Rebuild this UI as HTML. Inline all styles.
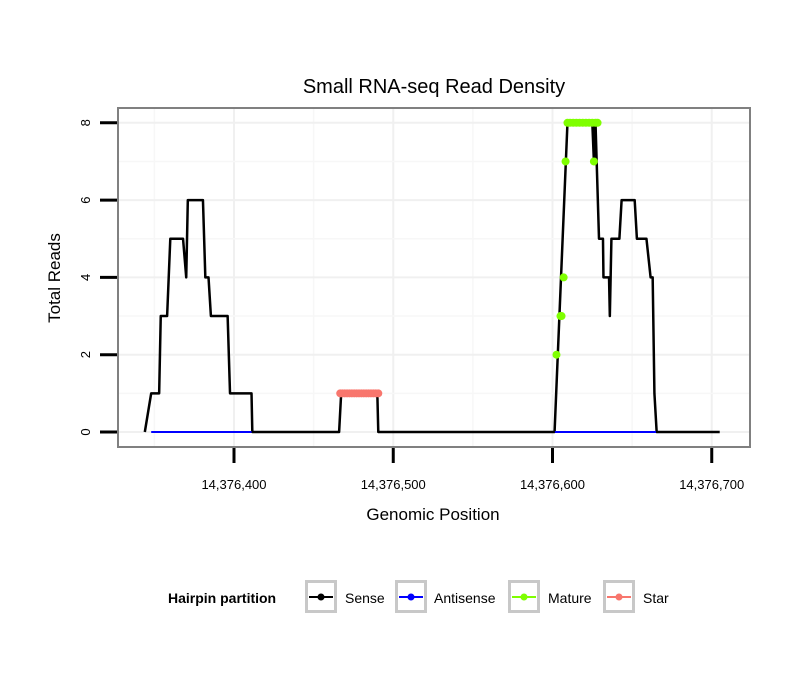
<!DOCTYPE html>
<html><head><meta charset="utf-8"><style>
body{margin:0;background:#fff;font-family:"Liberation Sans",sans-serif}
</style></head><body>
<svg id="chart" width="810" height="690" xmlns="http://www.w3.org/2000/svg" font-family="Liberation Sans, sans-serif">
<rect width="810" height="690" fill="#fff"/>
<text x="434" y="93" font-size="20" text-anchor="middle">Small RNA-seq Read Density</text>
<g id="grid"></g>
<g id="marks"></g>
<rect x="118" y="108" width="632" height="339" fill="none" stroke="#808080" stroke-width="2"/>
<g id="axes"></g>
<text x="433" y="520" font-size="17" text-anchor="middle">Genomic Position</text>
<text transform="translate(60,278) rotate(-90)" font-size="17" text-anchor="middle">Total Reads</text>
<g>
<text x="168" y="603" font-size="14" font-weight="bold">Hairpin partition</text>
<g id="legend"></g>
</g>
</svg>
<script>
const BASE = 14376000;
const xTicks = [400, 500, 600, 700];
const yTicks = [0, 2, 4, 6, 8];
const sensePos = [344,348,353,354,358,360,368,370,371,380.5,382,384,385.5,396,397.5,411,411.5,466,467.3,490,490.6,601.3,609.4,625,626,626.5,627,629.2,631.7,632,635.5,636,637,642,643.4,651.6,653,659,661.6,662.9,664,665.4,705];
const senseVal = [0,1,1,3,3,5,5,4,6,6,4,4,3,3,1,1,0,0,1,1,0,0,8,8,7,8,8,5,5,4,4,3,5,5,6,6,5,5,4,4,1,0,0];
const antiPos = [348,411,601.5,665];
const antiVal = [0,0,0,0];
const maturePos = [602.5,605,605.7,607,608.2,609.4,611,613,615,617,619,621,623,625,627,628.3,626];
const matureVal = [2,3,3,4,7,8,8,8,8,8,8,8,8,8,8,8,7];
const starPos = [466.7,468,469.5,471,472.5,474,475.5,477,478.5,480,481.5,483,484.5,486,487.5,489,490.6];
const starVal = [1,1,1,1,1,1,1,1,1,1,1,1,1,1,1,1,1];
const legendLabels = ["Sense","Antisense","Mature","Star"];
const legendColors = ["#000000","#0000ff","#7fff00","#f8766d"];

const NS="http://www.w3.org/2000/svg";
const X = v => 234 + (v - 400) * 1.5925;
const Y = v => 432 - v * 38.65;
function mk(tag, attrs, parent){const e=document.createElementNS(NS,tag);for(const k in attrs)e.setAttribute(k,attrs[k]);parent.appendChild(e);return e;}
const grid=document.getElementById('grid'), marks=document.getElementById('marks'), axes=document.getElementById('axes');

for(let v=350; v<=700; v+=50){
  const g=mk('line',{x1:X(v),x2:X(v),y1:108,y2:447,stroke:v%100===0?'#f0f0f0':'#f7f7f7','stroke-width':v%100===0?2:1.5},grid);
  
  
}
for(let v=0; v<=8; v+=1){
  const g=mk('line',{x1:118,x2:750,y1:Y(v),y2:Y(v),stroke:v%2===0?'#f0f0f0':'#f7f7f7','stroke-width':v%2===0?2:1.5},grid);
  
  
}
xTicks.forEach(t=>{
  const l=mk('line',{x1:X(t),x2:X(t),y1:448,y2:463,stroke:'#000','stroke-width':3},axes);
  
  
  const tx=mk('text',{x:X(t),y:489,'font-size':13,'text-anchor':'middle'},axes);
  tx.textContent=(BASE+t).toLocaleString('en-US');
  
  
});
yTicks.forEach(t=>{
  const l=mk('line',{x1:100,x2:117,y1:Y(t),y2:Y(t),stroke:'#000','stroke-width':3},axes);
  
  
  const tx=mk('text',{transform:`translate(90,${Y(t)}) rotate(-90)`,'font-size':13,'text-anchor':'middle'},axes);
  tx.textContent=t;
  
  
});
function line(pos,val,color,w,name){
  const p=mk('polyline',{points:pos.map((x,i)=>X(x)+','+Y(val[i])).join(' '),fill:'none',stroke:color,'stroke-width':w,'stroke-linejoin':'round'},marks);
  
  
}
line(sensePos,senseVal,'#000',2.5,'sense-line');
for(let i=0;i<antiPos.length;i+=2){line(antiPos.slice(i,i+2),antiVal.slice(i,i+2),'#0000ff',2,'antisense-line');}
line(starPos,starVal,'#f8766d',5,'star-line');
starPos.forEach((p,i)=>{
  const c=mk('circle',{cx:X(p),cy:Y(starVal[i]),r:4,fill:'#f8766d'},marks);
  
  
});
const mLine=maturePos.map((p,i)=>[p,matureVal[i]]).filter(d=>d[1]===8).sort((a,b)=>a[0]-b[0]);
line(mLine.map(d=>d[0]),mLine.map(d=>d[1]),'#7fff00',6,'mature-line');
maturePos.forEach((p,i)=>{
  const c=mk('circle',{cx:X(p),cy:Y(matureVal[i]),r:4,fill:'#7fff00'},marks);
  
  
});
const lg=document.getElementById('legend');
const boxX=[305,395,508,603], textX=[345,434,548,643];
legendLabels.forEach((lab,i)=>{
  const b=mk('rect',{x:boxX[i]+1.5,y:581.5,width:29,height:30,fill:'#fff',stroke:'#c8c8c8','stroke-width':3},lg);
  
  
  mk('line',{x1:boxX[i]+4,x2:boxX[i]+28,y1:597,y2:597,stroke:legendColors[i],'stroke-width':2},lg);
  mk('circle',{cx:boxX[i]+16,cy:597,r:3.5,fill:legendColors[i]},lg);
  const t=mk('text',{x:textX[i],y:603,'font-size':14},lg);
  t.textContent=lab;
  
  
});
</script>
</body></html>
